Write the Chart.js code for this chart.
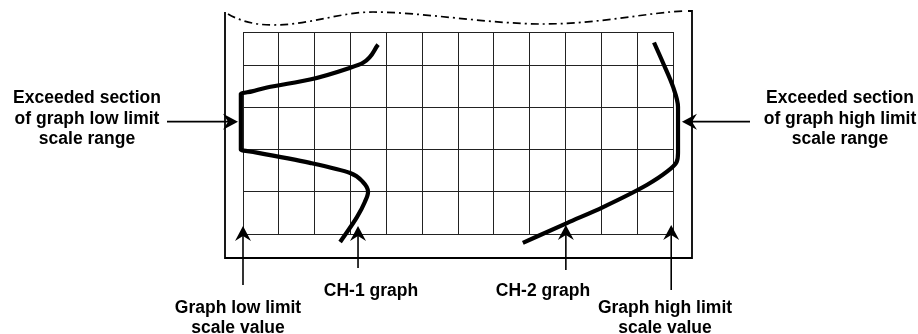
<!DOCTYPE html>
<html>
<head>
<meta charset="utf-8">
<title>Graph scale range</title>
<script src="https://cdn.jsdelivr.net/npm/chart.js@4.4.1/dist/chart.umd.min.js"></script>
<style>
html, body { margin: 0; padding: 0; background: #fff; }
canvas { display: block; }
</style>
</head>
<body>
<canvas id="scale-range-chart" width="918" height="334"></canvas>
<script>
// grid size in divisions (the top row is cut by the torn edge)
var gridCols = 12;
var gridRows = 4.8;

// traces, in grid divisions: x across, y up from the bottom grid line
var ch1X = [3.77, 3.35, 2.99, 1.87, 0.67, 0.25, -0.06, -0.06, 0.35, 1.87, 2.99, 3.34, 3.49, 3.40, 3.18, 2.71];
var ch1Y = [4.50, 4.07, 3.95, 3.67, 3.48, 3.39, 3.33, 2.00, 1.94, 1.69, 1.45, 1.24, 1.00, 0.76, 0.40, -0.19];

var ch2X = [11.47, 11.72, 12.00, 12.14, 12.14, 12.10, 11.83, 11.28, 10.05, 9.04, 7.81];
var ch2Y = [4.55, 4.07, 3.50, 3.02, 1.93, 1.71, 1.48, 1.17, 0.64, 0.26, -0.21];

var leftNote = ['Exceeded section', 'of graph low limit', 'scale range'];
var rightNote = ['Exceeded section', 'of graph high limit', 'scale range'];
var lowLimitNote = ['Graph low limit', 'scale value'];
var highLimitNote = ['Graph high limit', 'scale value'];
var ch1Note = 'CH-1 graph';
var ch2Note = 'CH-2 graph';

function toPoints(xs, ys) {
    var pts = [];
    for (var i = 0; i < xs.length; i++) {
        pts.push({x: xs[i], y: ys[i]});
    }
    return pts;
}

function drawArrow(ctx, x0, y0, x1, y1) {
    var ang = Math.atan2(y1 - y0, x1 - x0);
    var len = 15, half = 8, notch = 10;
    ctx.beginPath();
    ctx.moveTo(x0, y0);
    ctx.lineTo(x1 - Math.cos(ang) * notch, y1 - Math.sin(ang) * notch);
    ctx.stroke();
    ctx.save();
    ctx.translate(x1, y1);
    ctx.rotate(ang);
    ctx.beginPath();
    ctx.moveTo(0, 0);
    ctx.lineTo(-len, -half);
    ctx.lineTo(-notch, 0);
    ctx.lineTo(-len, half);
    ctx.closePath();
    ctx.fill();
    ctx.restore();
}

function drawLines(ctx, lines, cx, baseline, step) {
    for (var i = 0; i < lines.length; i++) {
        ctx.fillText(lines[i], cx, baseline + i * step);
    }
}

// frame with torn top edge, arrows and captions
var notesPlugin = {
    id: 'notes',
    afterDraw: function (chart) {
        var ctx = chart.ctx;
        var sx = chart.scales.x, sy = chart.scales.y;
        ctx.save();
        ctx.strokeStyle = '#000';
        ctx.fillStyle = '#000';

        // outer frame
        ctx.lineWidth = 1.8;
        ctx.beginPath();
        ctx.moveTo(225, 12);
        ctx.lineTo(225, 258);
        ctx.lineTo(692, 258);
        ctx.lineTo(692, 11);
        ctx.lineTo(688, 11);
        ctx.stroke();

        // torn edge, dash-dot
        ctx.lineWidth = 1.7;
        ctx.setLineDash([8, 4, 2, 4]);
        ctx.beginPath();
        ctx.moveTo(228, 14);
        ctx.bezierCurveTo(240, 21, 255, 25, 273, 25);
        ctx.bezierCurveTo(310, 25, 340, 12, 373, 12);
        ctx.bezierCurveTo(420, 12, 490, 24, 543, 24);
        ctx.bezierCurveTo(600, 24, 650, 12, 686, 11);
        ctx.stroke();
        ctx.setLineDash([]);

        // arrows
        ctx.lineWidth = 1.6;
        var tipY = sy.getPixelForValue(0.19);
        var midY = sy.getPixelForValue(2.67);
        drawArrow(ctx, 167, midY, sx.getPixelForValue(-0.14), midY);
        drawArrow(ctx, 750, midY, sx.getPixelForValue(12.25), midY);
        drawArrow(ctx, sx.getPixelForValue(0), 285, sx.getPixelForValue(0), tipY);
        drawArrow(ctx, sx.getPixelForValue(3.21), 268, sx.getPixelForValue(3.21), tipY);
        drawArrow(ctx, sx.getPixelForValue(9.01), 270, sx.getPixelForValue(9.01), tipY - 1);
        drawArrow(ctx, sx.getPixelForValue(11.95), 290, sx.getPixelForValue(11.95), tipY - 1);

        // captions
        ctx.font = "bold 17.5px 'Liberation Sans', Arial, sans-serif";
        ctx.textAlign = 'center';
        ctx.textBaseline = 'alphabetic';
        drawLines(ctx, leftNote, 87, 103, 20.5);
        drawLines(ctx, rightNote, 840, 103, 20.5);
        drawLines(ctx, lowLimitNote, 238, 313, 20);
        drawLines(ctx, highLimitNote, 665, 313, 20);
        ctx.fillText(ch1Note, 371, 296);
        ctx.fillText(ch2Note, 543, 296);
        ctx.restore();
    }
};

var traceStyle = {
    borderColor: '#000',
    borderWidth: 4.2,
    pointRadius: 0,
    fill: false,
    clip: false,
    cubicInterpolationMode: 'monotone',
    capBezierPoints: false
};

var config = {
    type: 'line',
    data: {
        datasets: [
            Object.assign({label: 'CH-1', data: toPoints(ch1X, ch1Y)}, traceStyle),
            Object.assign({label: 'CH-2', data: toPoints(ch2X, ch2Y)}, traceStyle)
        ]
    },
    options: {
        indexAxis: 'y',
        responsive: false,
        animation: false,
        devicePixelRatio: 1,
        layout: {
            padding: {left: 243, right: 245, top: 32, bottom: 100}
        },
        elements: {
            line: {capBezierPoints: false}
        },
        plugins: {
            legend: {display: false},
            tooltip: {enabled: false}
        },
        scales: {
            x: {
                type: 'linear',
                min: 0,
                max: gridCols,
                ticks: {display: false, stepSize: 1},
                grid: {color: '#222', lineWidth: 1, drawTicks: false},
                border: {color: '#222'}
            },
            y: {
                type: 'linear',
                min: 0,
                max: gridRows,
                ticks: {display: false, stepSize: 1},
                grid: {color: '#222', lineWidth: 1, drawTicks: false},
                border: {color: '#222'}
            }
        }
    },
    plugins: [notesPlugin]
};

var chartCtx = document.getElementById('scale-range-chart').getContext('2d');
var scaleChart = new Chart(chartCtx, config);
</script>
</body>
</html>
